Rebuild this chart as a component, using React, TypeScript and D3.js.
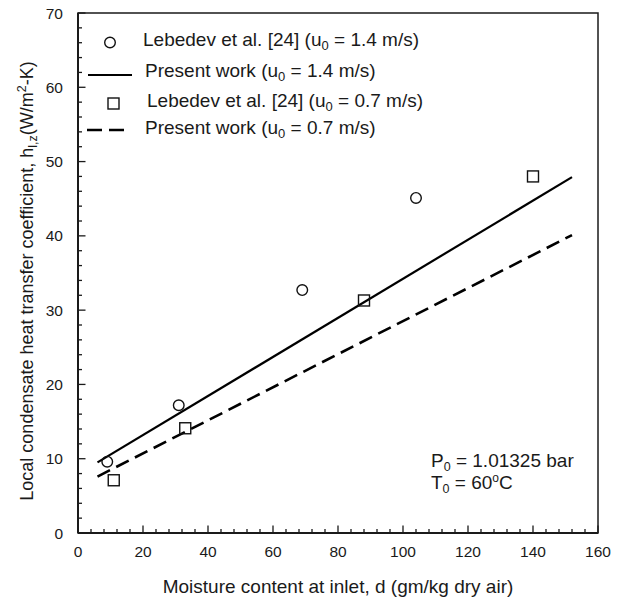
import React from "react";
import * as d3 from "d3";

const circleX = [9, 31, 69, 104];
const circleY = [9.6, 17.2, 32.7, 45.1];
const squareX = [11, 33, 88, 140];
const squareY = [7.1, 14.1, 31.3, 48.0];
const solidX = [6, 152];
const solidY = [9.5, 47.9];
const dashedX = [6, 152];
const dashedY = [7.6, 40.1];
const xTicks = [0, 20, 40, 60, 80, 100, 120, 140, 160];
const yTicks = [0, 10, 20, 30, 40, 50, 60, 70];

const W = 624, H = 599;
const L = 78, R = 598, T = 13, B = 533;
const FONT = "Arial, 'Liberation Sans', sans-serif";

export default function App() {
  const x = d3.scaleLinear().domain([0, 160]).range([L, R]);
  const y = d3.scaleLinear().domain([0, 70]).range([B, T]);
  const line = d3.line<[number, number]>().x(d => x(d[0])).y(d => y(d[1]));
  const solidPts = solidX.map((v, i) => [v, solidY[i]] as [number, number]);
  const dashedPts = dashedX.map((v, i) => [v, dashedY[i]] as [number, number]);
  const xMinor = d3.range(0, 161, 4);
  const yMinor = d3.range(0, 71, 2);
  const tc = "#1a1a1a";
  return (
    <svg width={W} height={H} style={{ position: "absolute", left: 0, top: 0, background: "#fff" }} fontFamily={FONT}>
      <rect x={0} y={0} width={W} height={H} fill="#fff" />
      {xMinor.map(v => (
        <line key={"xm" + v} x1={x(v)} x2={x(v)} y1={B} y2={B - (v % 20 === 0 ? 7.5 : 4)} stroke={tc} strokeWidth={1.3} />
      ))}
      {yMinor.map(v => (
        <line key={"ym" + v} x1={L} x2={L + (v % 10 === 0 ? 7.5 : 4)} y1={y(v)} y2={y(v)} stroke={tc} strokeWidth={1.3} />
      ))}
      <rect x={L} y={T} width={R - L} height={B - T} fill="none" stroke={tc} strokeWidth={1.5} />
      <line x1={L} x2={R} y1={B} y2={B} stroke={tc} strokeWidth={2} />
      <line x1={L} x2={L} y1={T} y2={B} stroke={tc} strokeWidth={2} />
      {xTicks.map(v => (
        <text key={"xt" + v} x={x(v)} y={557} textAnchor="middle" fontSize={15.5} fill={tc}>{v}</text>
      ))}
      {yTicks.map(v => (
        <text key={"yt" + v} x={63} y={y(v) + 5.5} textAnchor="end" fontSize={15.5} fill={tc}>{v}</text>
      ))}
      <path d={line(solidPts) || ""} fill="none" stroke="#000" strokeWidth={2.2} />
      <path d={line(dashedPts) || ""} fill="none" stroke="#000" strokeWidth={2.6} strokeDasharray="14,7" />
      {circleX.map((v, i) => (
        <circle key={"c" + i} cx={x(v)} cy={y(circleY[i])} r={5.3} fill="none" stroke="#111" strokeWidth={1.4} />
      ))}
      {squareX.map((v, i) => (
        <rect key={"s" + i} x={x(v) - 5.5} y={y(squareY[i]) - 5.5} width={11} height={11} fill="none" stroke="#111" strokeWidth={1.4} />
      ))}
      <circle cx={110} cy={42.5} r={5.3} fill="none" stroke="#111" strokeWidth={1.4} />
      <text x={143} y={46} fontSize={19} fill={tc}>Lebedev et al. [24] (u<tspan fontSize={13} dy={4}>0</tspan><tspan dy={-4}> = 1.4 m/s)</tspan></text>
      <line x1={88} x2={132} y1={75} y2={75} stroke="#000" strokeWidth={2} />
      <text x={145} y={77} fontSize={19} fill={tc}>Present work (u<tspan fontSize={13} dy={4}>0</tspan><tspan dy={-4}> = 1.4 m/s)</tspan></text>
      <rect x={108} y={98} width={11} height={11} fill="none" stroke="#111" strokeWidth={1.4} />
      <text x={147} y={107} fontSize={19} fill={tc}>Lebedev et al. [24] (u<tspan fontSize={13} dy={4}>0</tspan><tspan dy={-4}> = 0.7 m/s)</tspan></text>
      <line x1={87} x2={125} y1={130} y2={130} stroke="#000" strokeWidth={2.6} strokeDasharray="15,7" />
      <text x={145} y={134} fontSize={19} fill={tc}>Present work (u<tspan fontSize={13} dy={4}>0</tspan><tspan dy={-4}> = 0.7 m/s)</tspan></text>
      <text x={431} y={467} fontSize={19} fill={tc}>P<tspan fontSize={12.5} dy={4}>0</tspan><tspan dy={-4}> = 1.01325 bar</tspan></text>
      <text x={431} y={489} fontSize={19} fill={tc}>T<tspan fontSize={12.5} dy={4}>0</tspan><tspan dy={-4}> = 60</tspan><tspan fontSize={12} dy={-7}>o</tspan><tspan dy={7}>C</tspan></text>
      <text x={(L + R) / 2} y={593} textAnchor="middle" fontSize={19} fill={tc}>Moisture content at inlet, d (gm/kg dry air)</text>
      <text transform={`translate(33, 281) rotate(-90)`} textAnchor="middle" fontSize={18} fill={tc}>
        Local condensate heat transfer coefficient, h<tspan fontSize={12.5} dy={4}>l,z</tspan><tspan dy={-4}>(W/m</tspan><tspan fontSize={12.5} dy={-7}>2</tspan><tspan dy={7}>-K)</tspan>
      </text>
    </svg>
  );
}
